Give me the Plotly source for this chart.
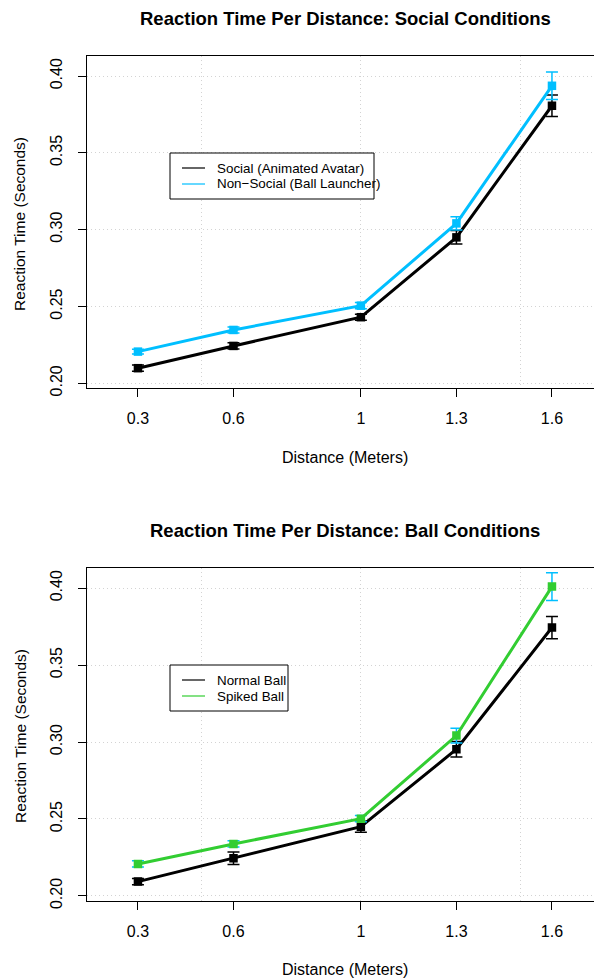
import plotly.graph_objects as go

# ---------------- data ----------------
distance = [0.3, 0.6, 1.0, 1.3, 1.6]
dist_labels = ["0.3", "0.6", "1", "1.3", "1.6"]
y_ticks = [0.20, 0.25, 0.30, 0.35, 0.40]
y_tick_labels = ["0.20", "0.25", "0.30", "0.35", "0.40"]

social_rt = [0.2098, 0.2243, 0.2430, 0.2950, 0.3807]
social_se = [0.002, 0.002, 0.002, 0.0044, 0.007]
nonsocial_rt = [0.2206, 0.2347, 0.2505, 0.3041, 0.3937]
nonsocial_se = [0.0015, 0.002, 0.002, 0.0043, 0.009]

normal_rt = [0.2093, 0.2245, 0.2450, 0.2953, 0.3744]
normal_se = [0.002, 0.004, 0.0036, 0.005, 0.0072]
spiked_rt = [0.2208, 0.2338, 0.2502, 0.3042, 0.4010]
spiked_se = [0.002, 0.002, 0.002, 0.0048, 0.009]

titles = ["Reaction Time Per Distance: Social Conditions",
          "Reaction Time Per Distance: Ball Conditions"]
legend1 = ["Social (Animated Avatar)", "Non\u2212Social (Ball Launcher)"]
legend2 = ["Normal Ball", "Spiked Ball"]

BLACK = "#000000"
SKY = "#00BFFF"
LIME = "#32CD32"
GRID = "#D3D3D3"
FONT = "Liberation Sans, Arial, Helvetica, sans-serif"

W, H = 594, 978
ML = 87  # left margin (px)
PW = W - ML


def px(x):
    return (x - ML) / PW


def py(y):
    return 1 - y / H


fig = go.Figure()


def add_series(x, y, err, color, ecolor, xa, ya):
    fig.add_trace(go.Scatter(
        x=x, y=y, mode="lines+markers",
        line=dict(color=color, width=3),
        marker=dict(symbol="square", size=8.5, color=color),
        error_y=dict(type="data", array=err, visible=True,
                     color=ecolor, thickness=1.5, width=6),
        xaxis=xa, yaxis=ya, showlegend=False, hoverinfo="skip"))


add_series(distance, social_rt, social_se, BLACK, BLACK, "x", "y")
add_series(distance, nonsocial_rt, nonsocial_se, SKY, SKY, "x", "y")
add_series(distance, normal_rt, normal_se, BLACK, BLACK, "x2", "y2")
add_series(distance, spiked_rt, spiked_se, LIME, SKY, "x2", "y2")

xrange = [0.140, 1.732]
yrange = [0.1969, 0.4131]

dom_top = [py(388), py(56)]
dom_bot = [py(900.7), py(568)]

xcommon = dict(
    range=xrange, tickmode="array", tickvals=distance, ticktext=dist_labels,
    ticks="outside", ticklen=8, tickcolor=BLACK, tickwidth=1,
    showline=True, linecolor=BLACK, linewidth=1, mirror=True,
    showgrid=False, zeroline=False, automargin=False,
    tickfont=dict(family=FONT, size=16, color=BLACK),
    ticklabelstandoff=8,
    minor=dict(tickmode="array", tickvals=[0.5, 1.0, 1.5], showgrid=True,
               gridcolor=GRID, griddash="1px,3px", gridwidth=1, ticks=""),
    fixedrange=True,
)
ycommon = dict(
    range=yrange, tickmode="array", tickvals=y_ticks, ticktext=y_tick_labels,
    ticks="outside", ticklen=8, tickcolor=BLACK, tickwidth=1, tickangle=-90,
    showline=True, linecolor=BLACK, linewidth=1, mirror=False,
    showgrid=True, gridcolor=GRID, griddash="1px,3px", gridwidth=1,
    zeroline=False, automargin=False,
    tickfont=dict(family=FONT, size=16, color=BLACK),
    ticklabelstandoff=10,
    fixedrange=True,
)

fig.update_layout(
    width=W, height=H,
    margin=dict(l=ML, r=0, t=0, b=0, autoexpand=False),
    paper_bgcolor="white", plot_bgcolor="white",
    font=dict(family=FONT, color=BLACK),
    xaxis=dict(domain=[0, 1], anchor="y", **xcommon),
    yaxis=dict(domain=dom_top, anchor="x", **ycommon),
    xaxis2=dict(domain=[0, 1], anchor="y2", **xcommon),
    yaxis2=dict(domain=dom_bot, anchor="x2", **ycommon),
)

ann = []
# titles
for t, yc in zip(titles, [18, 530]):
    ann.append(dict(text="<b>%s</b>" % t, x=px(345), y=py(yc), xref="paper", yref="paper",
                    xanchor="center", yanchor="middle", showarrow=False,
                    font=dict(family=FONT, size=18.5, color=BLACK)))
# x axis titles
for yc in [457, 969]:
    ann.append(dict(text="Distance (Meters)", x=px(345), y=py(yc), xref="paper", yref="paper",
                    xanchor="center", yanchor="middle", showarrow=False,
                    font=dict(family=FONT, size=16, color=BLACK)))
# y axis titles
for yc in [224, 736]:
    ann.append(dict(text="Reaction Time (Seconds)", x=px(20), y=py(yc), xref="paper", yref="paper",
                    xanchor="center", yanchor="middle", showarrow=False, textangle=-90,
                    font=dict(family=FONT, size=15.5, color=BLACK)))

shapes = []


def legend(x0, y0, x1, y1, labels, colors, ys):
    shapes.append(dict(type="rect", xref="paper", yref="paper",
                       x0=px(x0), x1=px(x1), y0=py(y1), y1=py(y0),
                       line=dict(color=BLACK, width=1), fillcolor="white", layer="above"))
    for lab, col, yy in zip(labels, colors, ys):
        shapes.append(dict(type="line", xref="paper", yref="paper",
                           x0=px(182), x1=px(205), y0=py(yy), y1=py(yy),
                           line=dict(color=col, width=1.2), layer="above"))
        ann.append(dict(text=lab, x=px(215), y=py(yy), xref="paper", yref="paper",
                        xanchor="left", yanchor="middle", showarrow=False,
                        font=dict(family=FONT, size=13.4, color=BLACK)))


legend(170, 153, 374, 199, legend1, [BLACK, SKY], [168, 184])
legend(170, 665, 288, 711, legend2, [BLACK, LIME], [680, 696])

fig.update_layout(annotations=ann, shapes=shapes)

fig.write_html("out.html", config={"displayModeBar": False},
               post_script="document.body.style.margin='0px';document.body.style.padding='0px';")
